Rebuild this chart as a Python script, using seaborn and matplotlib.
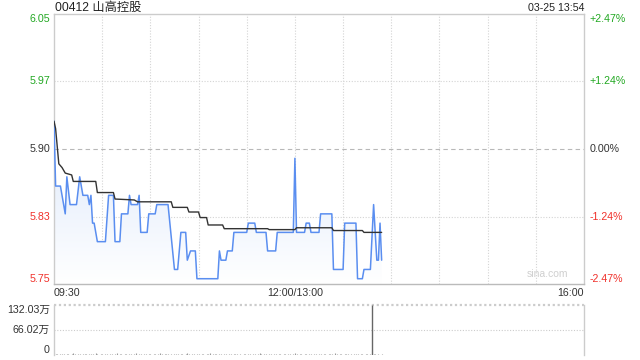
import numpy as np
import pandas as pd
import matplotlib
matplotlib.use("Agg")
import matplotlib.pyplot as plt
from matplotlib.colors import LinearSegmentedColormap
from matplotlib.transforms import blended_transform_factory
import seaborn as sns

# ---------------- data ----------------
title = "00412 山高控股"
stamp = "03-25 13:54"
prev_close = 5.90

price_t = [0, 1, 4, 5, 7, 8, 10, 14, 16, 18, 21, 22, 23, 24, 25, 27, 32, 34, 37, 38,
           41, 42, 46, 47, 48, 52, 53, 54, 58, 59, 63, 64, 71, 75, 77, 79, 82, 83, 85, 88,
           89, 102, 103, 104, 107, 108, 111, 112, 120, 121, 125, 126, 132, 133, 138, 139, 149, 150, 151, 156,
           157, 159, 160, 165, 166, 173, 174, 180, 181, 188, 189, 192, 193, 197, 199, 201, 202, 203, 204]
price_v = [5.93, 5.86, 5.86, 5.85, 5.83, 5.87, 5.84, 5.84, 5.87, 5.85, 5.85, 5.84, 5.85, 5.82, 5.82, 5.80, 5.80, 5.85, 5.85, 5.80,
           5.80, 5.83, 5.83, 5.85, 5.84, 5.84, 5.85, 5.81, 5.81, 5.83, 5.83, 5.84, 5.84, 5.77, 5.77, 5.81, 5.81, 5.78, 5.79, 5.79,
           5.76, 5.76, 5.79, 5.78, 5.78, 5.79, 5.79, 5.81, 5.81, 5.82, 5.82, 5.81, 5.81, 5.79, 5.79, 5.81, 5.81, 5.89, 5.81, 5.81,
           5.82, 5.82, 5.81, 5.81, 5.83, 5.83, 5.77, 5.77, 5.82, 5.82, 5.76, 5.76, 5.77, 5.77, 5.84, 5.78, 5.78, 5.82, 5.78]

avg_t = [0, 1, 3, 5, 7, 11, 12, 26, 27, 37, 38, 50, 52, 73, 74, 83, 84, 90, 91, 95,
         96, 105, 106, 133, 134, 150, 151, 173, 174, 192, 193, 204]
avg_v = [5.93, 5.922, 5.884, 5.880, 5.874, 5.872, 5.865, 5.865, 5.853, 5.853, 5.846, 5.845, 5.843, 5.843, 5.837, 5.837,
         5.832, 5.832, 5.826, 5.826, 5.818, 5.818, 5.814, 5.814, 5.813, 5.813, 5.815, 5.815, 5.812, 5.812, 5.810, 5.810]

# volume per minute (万股)
volume = [4, 2, 3, 1, 2, 3, 2, 1, 3, 2, 1, 2, 4, 2, 1, 3, 2, 1, 2, 3,
          2, 1, 3, 2, 2, 1, 4, 2, 1, 2, 3, 1, 2, 2, 1, 3, 2, 1, 2, 4,
          1, 2, 3, 1, 2, 2, 1, 3, 2, 1, 2, 4, 1, 2, 3, 1, 2, 2, 1, 3,
          2, 1, 2, 3, 1, 2, 4, 2, 1, 2, 3, 2, 1, 2, 1, 3, 2, 2, 1, 2,
          3, 1, 2, 4, 2, 1, 2, 3, 1, 2, 2, 1, 3, 2, 1, 2, 2, 4, 1, 2,
          3, 2, 1, 2, 3, 1, 2, 2, 1, 3, 2, 1, 2, 2, 3, 1, 2, 1, 2, 3,
          1, 2, 2, 1, 3, 2, 1, 2, 4, 2, 1, 2, 3, 1, 2, 2, 1, 2, 3, 1,
          2, 2, 1, 3, 2, 1, 2, 2, 1, 3, 4, 2, 1, 2, 3, 1, 2, 2, 1, 2,
          3, 1, 2, 2, 1, 3, 2, 1, 2, 2, 1, 2, 3, 2, 1, 6, 2, 1, 2, 3,
          1, 2, 2, 3, 1, 2, 1, 2, 3, 2, 1, 2, 2, 1, 3, 2, 1, 2, 132.03, 3,
          2, 1, 3, 1, 2]

price_ticks = [6.0457, 5.9729, 5.90, 5.8271, 5.7543]
price_labels = ["6.05", "5.97", "5.90", "5.83", "5.75"]
pct_labels = ["+2.47%", "+1.24%", "0.00%", "-1.24%", "-2.47%"]
tick_colors = ["#22a822", "#22a822", "#333333", "#f0302a", "#f0302a"]
time_ticks = [0, 150, 330]
time_labels = ["09:30", "12:00/13:00", "16:00"]
vol_ticks = [0, 66.02, 132.03]
vol_labels = ["0", "66.02万", "132.03万"]

# ---------------- style ----------------
sns.set_theme(style="white")
plt.rcParams["font.family"] = ["Liberation Sans", "Noto Sans CJK SC", "DejaVu Sans"]
FS = 7.7

W, H = 640, 360
fig = plt.figure(figsize=(W / 100, H / 100), dpi=100)
fig.patch.set_facecolor("white")

def frac(l, t, r, b):
    return [l / W, 1 - b / H, (r - l) / W, (b - t) / H]

ax = fig.add_axes(frac(54, 14, 584, 284))
axv = fig.add_axes(frac(54, 305, 584, 355))

ymin, ymax = price_ticks[-1], price_ticks[0]

df_p = pd.DataFrame({"t": price_t, "price": price_v})
df_a = pd.DataFrame({"t": avg_t, "avg": avg_v})

# gradient fill under price line
poly = ax.fill_between(df_p["t"], df_p["price"], ymin, facecolor="none", edgecolor="none")
cmap = LinearSegmentedColormap.from_list("g", ["#ffffff", "#dce8fb"])
grad = np.linspace(1, 0, 256).reshape(-1, 1)
im = ax.imshow(grad, extent=[0, max(price_t), ymin, max(price_v)], aspect="auto",
               cmap=cmap, vmin=0, vmax=1, zorder=1, interpolation="bilinear")
im.set_clip_path(poly.get_paths()[0], transform=ax.transData)

sns.lineplot(data=df_p, x="t", y="price", ax=ax, color="#5a8ef0", linewidth=1.1,
             estimator=None, sort=False, zorder=3)
sns.lineplot(data=df_a, x="t", y="avg", ax=ax, color="#333333", linewidth=1.0,
             estimator=None, sort=False, zorder=4)

ax.set_xlim(0, 330)
ax.set_ylim(ymin, ymax)
ax.set_xlabel("")
ax.set_ylabel("")

# grid
for x in range(30, 330, 30):
    ax.axvline(x, color="#d4d4d4", lw=0.8, ls=(0, (1, 1.5)), zorder=0)
for y in [price_ticks[1], price_ticks[3]]:
    ax.axhline(y, color="#d4d4d4", lw=0.8, ls=(0, (1, 1.5)), zorder=0)
ax.axhline(prev_close, color="#b8b8b8", lw=0.8, ls=(0, (4, 3)), zorder=0)

for side, sp in ax.spines.items():
    sp.set_visible(True)
    sp.set_color("#cccccc")
    sp.set_linewidth(1.0)
ax.spines["bottom"].set_color("#bbbbbb")

# left tick labels
ax.set_yticks(price_ticks)
ax.set_yticklabels(price_labels, fontsize=FS)
ax.tick_params(axis="y", length=0, pad=3)
for lab, c, va in zip(ax.get_yticklabels(), tick_colors, ["top", "center", "center", "center", "bottom"]):
    lab.set_color(c)
    lab.set_va(va)

# right tick labels
axr = ax.twinx()
axr.set_ylim(ymin, ymax)
axr.set_yticks(price_ticks)
axr.set_yticklabels(pct_labels, fontsize=FS)
axr.tick_params(axis="y", length=0, pad=4)
for lab, c, va in zip(axr.get_yticklabels(), tick_colors, ["top", "center", "center", "center", "bottom"]):
    lab.set_color(c)
    lab.set_va(va)
for sp in axr.spines.values():
    sp.set_visible(False)
axr.grid(False)

# x tick labels
ax.set_xticks(time_ticks)
ax.set_xticklabels(time_labels, fontsize=FS, color="#333333")
ax.tick_params(axis="x", length=0, pad=3)
for lab, ha in zip(ax.get_xticklabels(), ["left", "center", "right"]):
    lab.set_ha(ha)

ax.text(0.97, 0.02, "sina.com", transform=ax.transAxes, ha="right", va="bottom",
        fontsize=7.5, color="#cfcfcf", zorder=2)

# titles
fig.text(55 / W, 1 - 7.5 / H, title, ha="left", va="center", fontsize=8.8, color="#222222")
fig.text(584 / W, 1 - 8 / H, stamp, ha="right", va="center", fontsize=FS, color="#222222")

# ---------------- volume ----------------
vol_t = list(range(len(volume)))
df_v = pd.DataFrame({"t": vol_t, "vol": volume})
big = df_v["vol"] > 50
axv.vlines(df_v.loc[~big, "t"], 0, df_v.loc[~big, "vol"], color="#9a9a9a", lw=0.8)
axv.vlines(df_v.loc[big, "t"], 0, df_v.loc[big, "vol"], color="#666666", lw=1.0)
axv.set_xlim(0, 330)
axv.set_ylim(0, vol_ticks[-1])
axv.axhline(vol_ticks[1], color="#cccccc", lw=0.8, ls=(0, (1, 1.5)), zorder=0)
axv.axhline(vol_ticks[2], color="#cccccc", lw=1.6, ls=(0, (1, 1.2)), zorder=0, clip_on=False)
axv.set_xticks([])
axv.set_yticks(vol_ticks)
axv.set_yticklabels(vol_labels, fontsize=FS, color="#333333")
axv.tick_params(axis="y", length=0, pad=3)
for lab, va in zip(axv.get_yticklabels(), ["bottom", "center", "top"]):
    lab.set_va(va)
for side, sp in axv.spines.items():
    sp.set_color("#cccccc")
    sp.set_linewidth(1.0)
axv.spines["top"].set_visible(False)
axv.spines["bottom"].set_visible(False)

fig.savefig("out.png", dpi=100, facecolor="white")
